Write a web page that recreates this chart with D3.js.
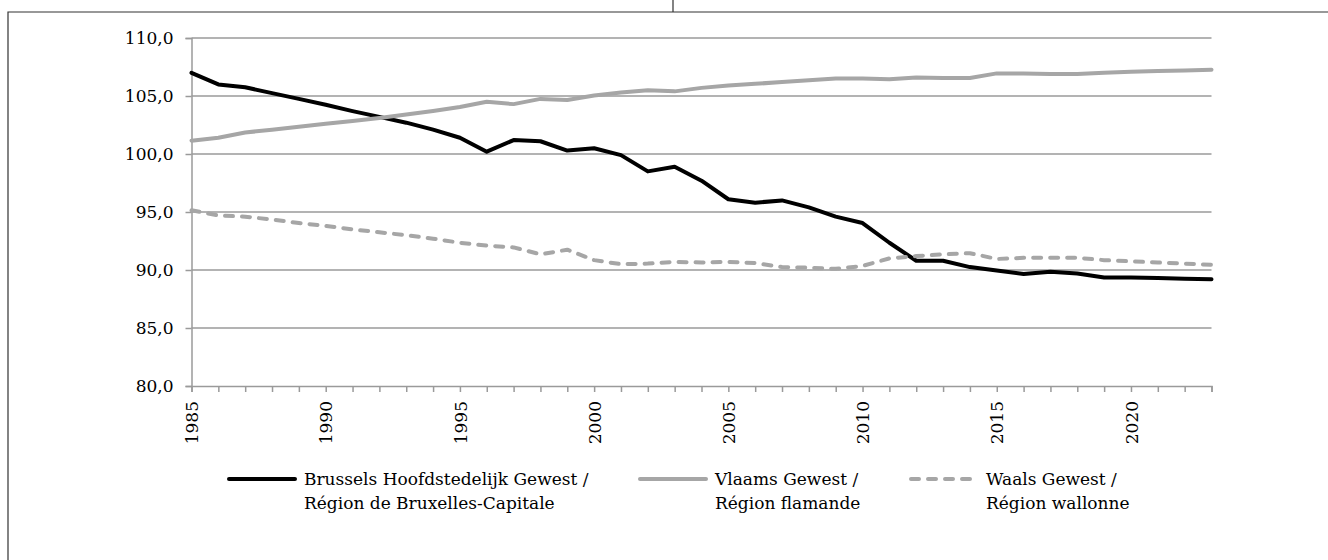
<!DOCTYPE html>
<html lang="fr">
<head>
  <meta charset="UTF-8">
  <title>Index par région</title>
  <script src="https://d3js.org/d3.v7.min.js"></script>
  <style>
    body { margin: 0; background: #fff; }
  </style>
</head>
<body>
  <script>
    // years on the x axis
    const years = d3.range(1985, 2024);

    // series values (1985 .. 2023)
    const brussels = [107.0, 106.0, 105.75, 105.25, 104.75, 104.25, 103.7, 103.2, 102.7, 102.1,
                      101.4, 100.2, 101.2, 101.1, 100.3, 100.5, 99.9, 98.5, 98.9, 97.7,
                      96.1, 95.8, 96.0, 95.4, 94.6, 94.05, 92.35, 90.8, 90.8, 90.25,
                      89.95, 89.65, 89.85, 89.7, 89.35, 89.35, 89.3, 89.25, 89.2];
    const vlaams = [101.15, 101.4, 101.85, 102.1, 102.35, 102.6, 102.85, 103.1, 103.4, 103.7,
                    104.05, 104.5, 104.3, 104.75, 104.65, 105.05, 105.3, 105.5, 105.4, 105.7,
                    105.9, 106.05, 106.2, 106.35, 106.5, 106.5, 106.45, 106.6, 106.55, 106.55,
                    106.95, 106.95, 106.9, 106.9, 107.0, 107.1, 107.15, 107.2, 107.27];
    const waals = [95.15, 94.7, 94.6, 94.35, 94.05, 93.8, 93.5, 93.25, 93.0, 92.7,
                   92.35, 92.1, 91.95, 91.35, 91.75, 90.85, 90.5, 90.55, 90.7, 90.65,
                   90.7, 90.6, 90.25, 90.2, 90.1, 90.35, 91.0, 91.2, 91.35, 91.45,
                   90.95, 91.05, 91.05, 91.05, 90.85, 90.75, 90.65, 90.55, 90.45];

    const yTicks = [80, 85, 90, 95, 100, 105, 110];
    const xLabelYears = [1985, 1990, 1995, 2000, 2005, 2010, 2015, 2020];

    const seriesNames = [
      ["Brussels Hoofdstedelijk Gewest /", "Région de Bruxelles-Capitale"],
      ["Vlaams Gewest /", "Région flamande"],
      ["Waals Gewest /", "Région wallonne"]
    ];

    // the only serif face available here
    const FONT = "DejaVu Serif";
    const FS = 17;

    const W = 1328, H = 560;
    const svg = d3.select("body").append("svg")
        .attr("width", W)
        .attr("height", H)
        .attr("font-family", FONT);

    // outer frame (only top and left edges are visible in the crop)
    svg.append("path")
        .attr("d", `M8,${H} L8,12 L${W},12 M673,0 L673,12`)
        .attr("fill", "none")
        .attr("stroke", "#333")
        .attr("stroke-width", 1.2);

    const x = d3.scaleLinear().domain([1985, 2023]).range([191.5, 1211.5]);
    const y = d3.scaleLinear().domain([80, 110]).range([386, 38]);

    // grid lines
    svg.append("g")
        .selectAll("line")
        .data(yTicks.filter(d => d > 80))
        .enter()
        .append("line")
        .attr("x1", x(1985))
        .attr("x2", x(2023))
        .attr("y1", d => y(d))
        .attr("y2", d => y(d))
        .attr("stroke", "#9a9a9a")
        .attr("stroke-width", 1.5);

    // y axis
    const yAxis = svg.append("g")
        .attr("transform", `translate(${x(1985)},0)`)
        .call(d3.axisLeft(y).tickValues(yTicks).tickSize(6).tickPadding(12)
            .tickFormat(d => d3.format(".1f")(d).replace(".", ",")));
    yAxis.attr("font-family", FONT).attr("font-size", FS);
    yAxis.select(".domain").attr("stroke", "#9a9a9a").attr("stroke-width", 1.5);
    yAxis.selectAll(".tick line").attr("stroke", "#9a9a9a").attr("stroke-width", 1.5);
    yAxis.selectAll("text").attr("fill", "#000");

    // x axis: a tick every year, label every five
    const xAxis = svg.append("g")
        .attr("transform", `translate(0,${y(80)})`)
        .call(d3.axisBottom(x).tickValues(years).tickSize(6).tickSizeOuter(6)
            .tickFormat(d => xLabelYears.includes(d) ? d : ""));
    xAxis.attr("font-family", FONT).attr("font-size", FS);
    xAxis.select(".domain").attr("stroke", "#9a9a9a").attr("stroke-width", 1.5);
    xAxis.selectAll(".tick line").attr("stroke", "#9a9a9a").attr("stroke-width", 1.5);
    xAxis.selectAll("text")
        .attr("fill", "#000")
        .attr("transform", "rotate(-90)")
        .attr("text-anchor", "end")
        .attr("x", -15)
        .attr("y", 0)
        .attr("dy", "0.36em");

    // lines
    const series = [
      { values: brussels, color: "#000", dash: null },
      { values: vlaams, color: "#a6a6a6", dash: null },
      { values: waals, color: "#a6a6a6", dash: "8,9" }
    ];

    const line = d3.line()
        .x((d, i) => x(years[i]))
        .y(d => y(d));

    svg.append("g")
        .selectAll("path")
        .data(series)
        .enter()
        .append("path")
        .attr("d", d => line(d.values))
        .attr("fill", "none")
        .attr("stroke", d => d.color)
        .attr("stroke-width", 4)
        .attr("stroke-linejoin", "round")
        .attr("stroke-linecap", "round")
        .attr("stroke-dasharray", d => d.dash);

    // legend
    const legendX = [227, 638, 909];
    const legend = svg.append("g")
        .selectAll("g")
        .data(series)
        .enter()
        .append("g")
        .attr("transform", (d, i) => `translate(${legendX[i]},479)`);

    legend.append("line")
        .attr("x1", 2)
        .attr("x2", 68)
        .attr("stroke", d => d.color)
        .attr("stroke-width", 4)
        .attr("stroke-linecap", "round")
        .attr("stroke-dasharray", d => d.dash);

    legend.append("text")
        .attr("x", 77)
        .attr("y", 6)
        .attr("font-size", FS)
        .attr("fill", "#000")
        .selectAll("tspan")
        .data((d, i) => seriesNames[i])
        .enter()
        .append("tspan")
        .attr("x", 77)
        .attr("dy", (d, j) => j === 0 ? 0 : 24)
        .text(d => d);
  </script>
</body>
</html>
